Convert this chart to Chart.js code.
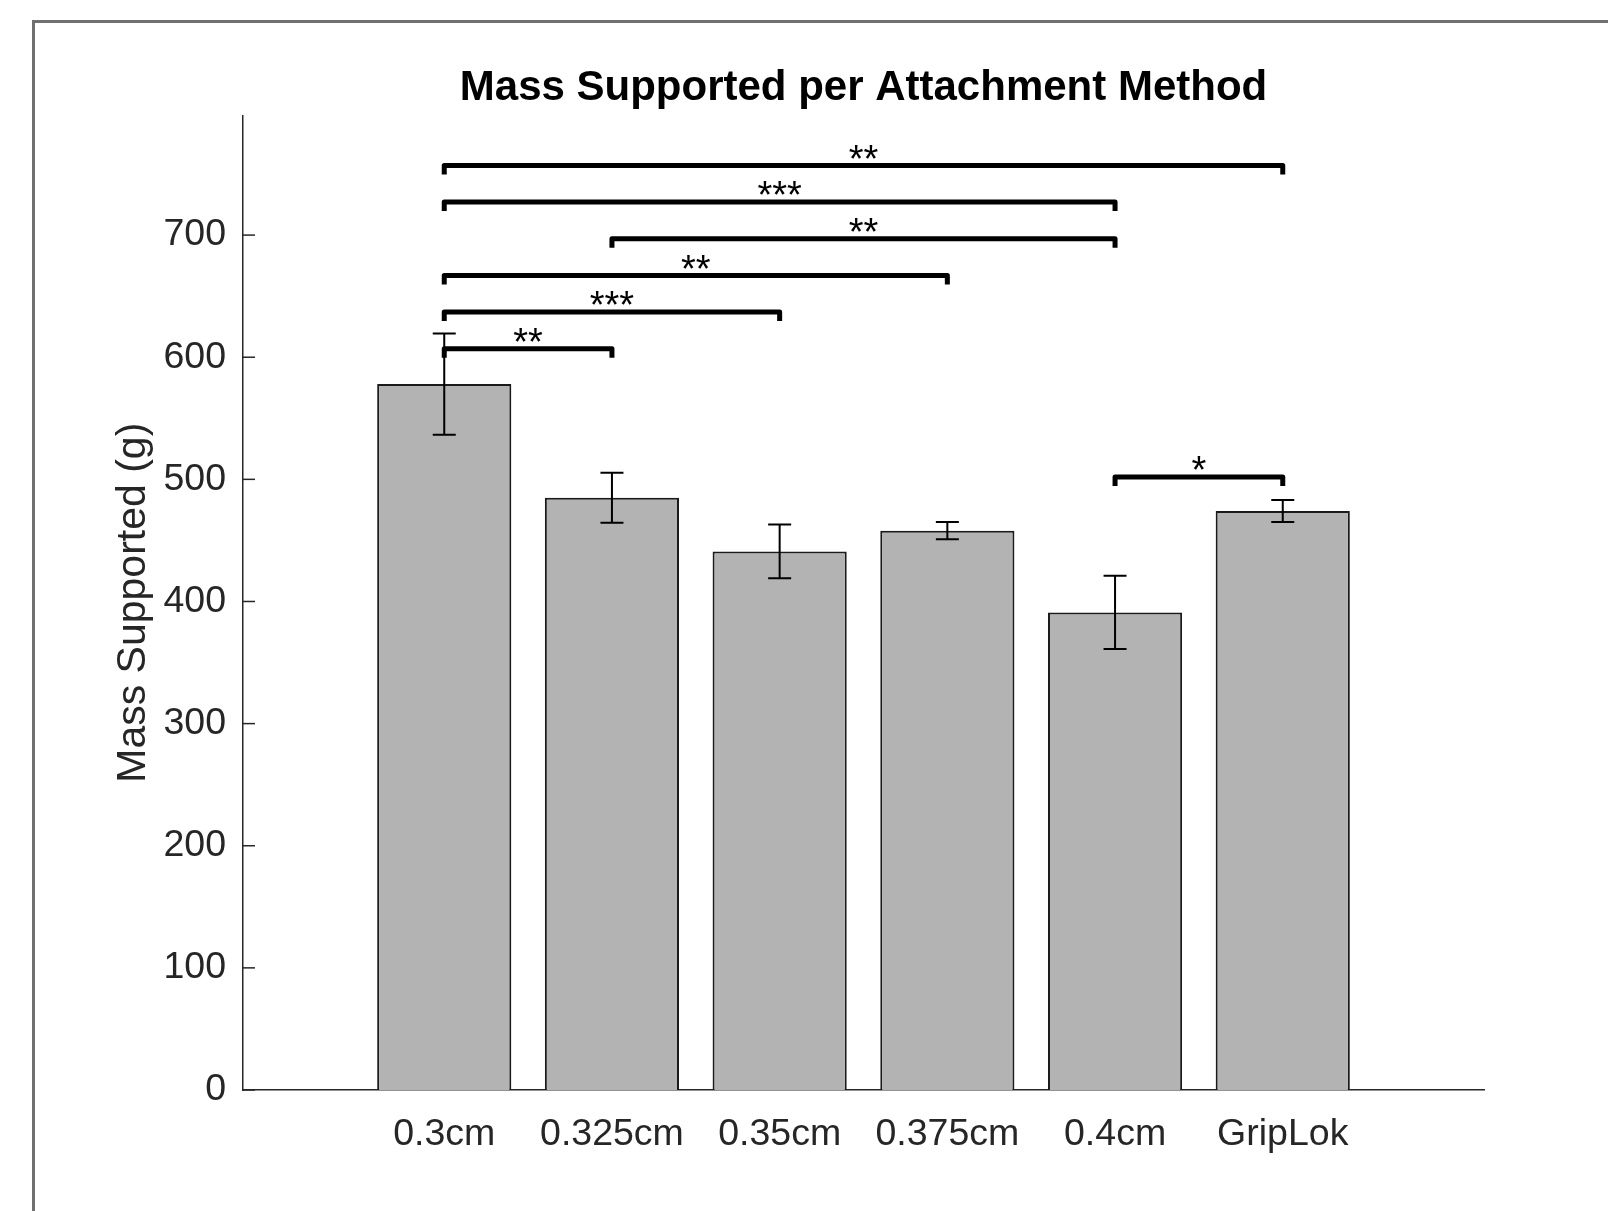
<!DOCTYPE html>
<html>
<head>
<meta charset="utf-8">
<title>Mass Supported per Attachment Method</title>
<script src="https://cdn.jsdelivr.net/npm/chart.js@4.4.1/dist/chart.umd.min.js"></script>
<style>
  html, body { margin: 0; padding: 0; background: #fff; }
  #frame { position: absolute; left: 32px; top: 20px; right: 0; bottom: 0;
           border-left: 3px solid #707070; border-top: 3px solid #707070; }
  #wrap { position: absolute; left: 0; top: 0; width: 1608px; height: 1211px; }
</style>
</head>
<body>
<div id="frame"></div>
<div id="wrap"><canvas id="massChart" width="1608" height="1211"></canvas></div>
<script>
// bar data
var categories = ['0.3cm', '0.325cm', '0.35cm', '0.375cm', '0.4cm', 'GripLok'];
var masses = [578, 485, 441, 458, 391, 474];
var errors = [41.5, 20.5, 22, 7, 30, 9];
var yTicks = [0, 100, 200, 300, 400, 500, 600, 700];

// significance brackets (category numbers 1..6)
var bracketFrom = [1, 1, 2, 1, 1, 1, 5];
var bracketTo = [6, 5, 5, 4, 3, 2, 6];
var bracketLevel = [757, 727, 697, 667, 637, 607, 502];
var bracketStars = ['**', '***', '**', '**', '***', '**', '*'];

var FONT = "'Liberation Sans', Arial, Helvetica, sans-serif";
Chart.defaults.font.family = FONT;

// ticks para dentro + barras de erro + chaves
var extras = {
    id: 'extras',
    beforeDatasetsDraw: function(chart) {
        var ctx = chart.ctx, area = chart.chartArea, ys = chart.scales.y;
        ctx.save();
        ctx.strokeStyle = '#262626';
        ctx.lineWidth = 1.5;
        ys.ticks.forEach(function(t) {
            var p = ys.getPixelForValue(t.value);
            ctx.beginPath();
            ctx.moveTo(area.left, p);
            ctx.lineTo(area.left + 12, p);
            ctx.stroke();
        });
        ctx.restore();
    },
    afterDatasetsDraw: function(chart) {
        var ctx = chart.ctx, xs = chart.scales.x, ys = chart.scales.y;
        ctx.save();
        ctx.strokeStyle = '#000';
        ctx.lineWidth = 2;
        masses.forEach(function(v, i) {
            var x = xs.getPixelForValue(i + 1);
            var top = ys.getPixelForValue(v + errors[i]);
            var bot = ys.getPixelForValue(v - errors[i]);
            ctx.beginPath();
            ctx.moveTo(x, top); ctx.lineTo(x, bot);
            ctx.moveTo(x - 11.5, top); ctx.lineTo(x + 11.5, top);
            ctx.moveTo(x - 11.5, bot); ctx.lineTo(x + 11.5, bot);
            ctx.stroke();
        });

        var fs = 38;
        ctx.lineWidth = 5;
        ctx.lineJoin = 'round';
        ctx.fillStyle = '#000';
        ctx.font = fs + 'px ' + FONT;
        ctx.textAlign = 'center';
        ctx.textBaseline = 'alphabetic';
        bracketLevel.forEach(function(lv, i) {
            var x1 = xs.getPixelForValue(bracketFrom[i]);
            var x2 = xs.getPixelForValue(bracketTo[i]);
            var y = ys.getPixelForValue(lv);
            ctx.beginPath();
            ctx.moveTo(x1, y + 9);
            ctx.lineTo(x1, y);
            ctx.lineTo(x2, y);
            ctx.lineTo(x2, y + 9);
            ctx.stroke();
            ctx.fillText(bracketStars[i], (x1 + x2) / 2, y + fs * 0.43 - 10);
        });
        ctx.restore();
    }
};

var ctx = document.getElementById('massChart').getContext('2d');
var chart = new Chart(ctx, {
    type: 'bar',
    data: {
        datasets: [{
            data: masses.map(function(v, i) { return { x: i + 1, y: v }; }),
            backgroundColor: '#b3b3b3',
            borderColor: '#1a1a1a',
            borderWidth: 2,
            categoryPercentage: 1,
            barPercentage: 0.8
        }]
    },
    options: {
        responsive: false,
        animation: false,
        layout: { padding: { left: 0, right: 124, top: 0, bottom: 0 } },
        plugins: {
            legend: { display: false },
            tooltip: { enabled: false },
            title: {
                display: true,
                fullSize: false,
                text: 'Mass Supported per Attachment Method',
                color: '#000',
                font: { size: 42, weight: 'bold' },
                padding: { top: 63, bottom: 2 }
            }
        },
        scales: {
            x: {
                type: 'linear',
                offset: false,
                min: -0.2,
                max: 7.2,
                afterBuildTicks: function(axis) {
                    axis.ticks = categories.map(function(c, i) { return { value: i + 1 }; });
                },
                afterFit: function(axis) { axis.height = 121; },
                grid: { display: false, drawTicks: false, offset: false },
                border: { display: true, color: '#262626', width: 1.5 },
                ticks: {
                    autoSkip: false,
                    maxRotation: 0,
                    padding: 22,
                    color: '#262626',
                    font: { size: 37.5 },
                    callback: function(v) { return categories[v - 1]; }
                }
            },
            y: {
                min: 0,
                max: 798,
                afterBuildTicks: function(axis) {
                    axis.ticks = yTicks.map(function(v) { return { value: v }; });
                },
                afterFit: function(axis) { axis.width = 243; },
                grid: { display: false, drawTicks: false },
                border: { display: true, color: '#262626', width: 1.5 },
                ticks: {
                    padding: 17,
                    color: '#262626',
                    font: { size: 37.5 }
                },
                title: {
                    display: true,
                    text: 'Mass Supported (g)',
                    color: '#262626',
                    font: { size: 41 },
                    padding: { top: 109, bottom: 0 }
                }
            }
        }
    },
    plugins: [extras]
});
</script>
</body>
</html>
